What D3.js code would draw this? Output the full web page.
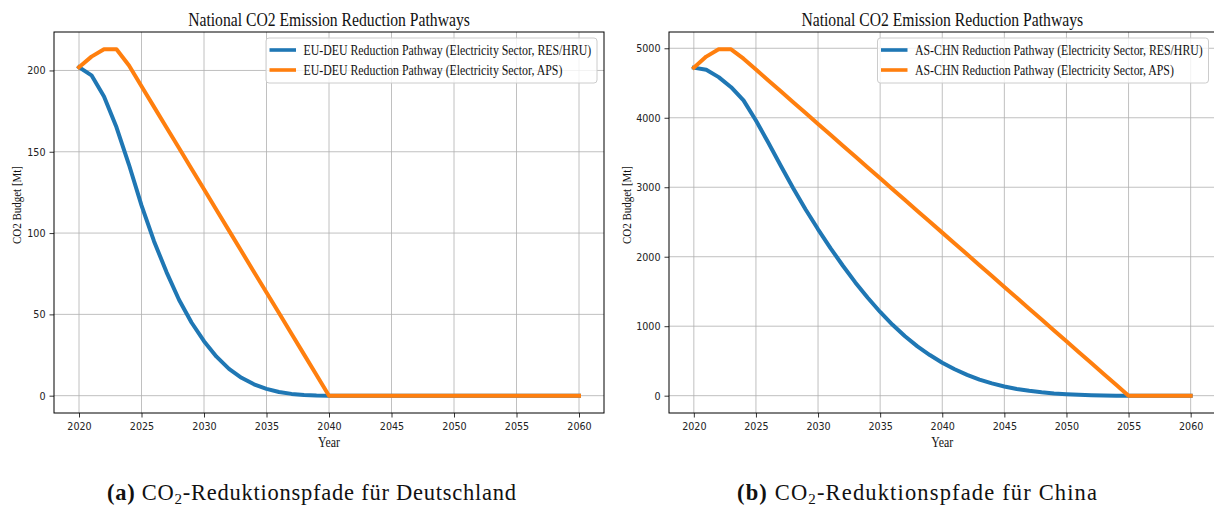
<!DOCTYPE html>
<html>
<head>
<meta charset="utf-8">
<script src="https://cdn.jsdelivr.net/npm/d3@7"></script>
<style>
  html, body { margin: 0; padding: 0; background: #fff; }
  svg { display: block; }
</style>
</head>
<body>
<svg id="chart" width="1214" height="510"></svg>
<script>
// ---------------- DATA ----------------
const years = [2020,2021,2022,2023,2024,2025,2026,2027,2028,2029,
               2030,2031,2032,2033,2034,2035,2036,2037,2038,2039,
               2040,2041,2042,2043,2044,2045,2046,2047,2048,2049,
               2050,2051,2052,2053,2054,2055,2056,2057,2058,2059,2060];

const deuRes = [202,197,184,165,142,117,95,76,59,45,
                33.5,24,16.5,11,7,4.2,2.3,1.1,0.45,0.12,
                0,0,0,0,0,0,0,0,0,0,
                0,0,0,0,0,0,0,0,0,0,0];

const deuAps = [202,208.5,213,213,203,190.3,177.6,164.9,152.3,139.6,
                126.9,114.2,101.5,88.8,76.1,63.4,50.8,38.1,25.4,12.7,
                0,0,0,0,0,0,0,0,0,0,
                0,0,0,0,0,0,0,0,0,0,0];

const chnRes = [4720,4690,4585,4440,4250,3960,3640,3310,2985,2680,
                2395,2125,1870,1630,1410,1205,1020,855,710,585,
                475,380,300,232,177,132,97,70,49,33,
                21,12,6,2.5,0.8,0,0,0,0,0,0];

const chnAps = [4720,4880,4985,4985,4850,4693.5,4537,4380.6,4224,4067.7,
                3911,3754.8,3598,3442,3285.5,3129,2972.6,2816,2659.7,2503,
                2346.8,2190,2034,1877.4,1721,1564.5,1408,1251.6,1095,938.7,
                782,625.8,469,312.9,156.5,0,0,0,0,0,0];

const xTickValues = [2020,2025,2030,2035,2040,2045,2050,2055,2060];
const deuYTicks = [0,50,100,150,200];
const chnYTicks = [0,1000,2000,3000,4000,5000];

const titleText = "National CO2 Emission Reduction Pathways";
const xLabelText = "Year";
const yLabelText = "CO2 Budget [Mt]";
const deuLegend = ["EU-DEU Reduction Pathway (Electricity Sector, RES/HRU)",
                   "EU-DEU Reduction Pathway (Electricity Sector, APS)"];
const chnLegend = ["AS-CHN Reduction Pathway (Electricity Sector, RES/HRU)",
                   "AS-CHN Reduction Pathway (Electricity Sector, APS)"];
const captions = [
  {label: "(a)", pre: " CO", sub: "2", post: "-Reduktionspfade für Deutschland"},
  {label: "(b)", pre: " CO", sub: "2", post: "-Reduktionspfade für China"}
];

const colors = ["#1f77b4", "#ff7f0e"];

// ---------------- DRAW ----------------
const svg = d3.select("#chart");
svg.append("rect").attr("width",1214).attr("height",510).attr("fill","#fff");

const SERIF = "'Liberation Serif','Times New Roman',serif";
const SANS = "'DejaVu Sans',sans-serif";
const SQ = 0.87; // horizontal squeeze seen in the reference

// squeeze text horizontally around its anchor using a transform
function squeeze(sel, f) {
  sel.each(function() {
    const x = +(this.getAttribute("x") || 0);
    this.setAttribute("x", x / f);
    const tr = this.getAttribute("transform") || "";
    this.setAttribute("transform", (tr + ` scale(${f},1)`).trim());
  });
}

function panel(cfg) {
  const all = cfg.series.flat();
  const ymax = d3.max(all), ymin = d3.min(all);
  const ypad = (ymax - ymin) * 0.05;
  const xmin = d3.min(years), xmax = d3.max(years);
  const xpad = (xmax - xmin) * 0.05;

  const x = d3.scaleLinear().domain([xmin - xpad, xmax + xpad]).range([cfg.x0, cfg.x1]);
  const y = d3.scaleLinear().domain([ymin - ypad, ymax + ypad]).range([cfg.y1, cfg.y0]);

  const g = svg.append("g");

  // grid
  g.append("g").selectAll("line").data(xTickValues).join("line")
    .attr("x1", d => x(d)).attr("x2", d => x(d))
    .attr("y1", cfg.y0).attr("y2", cfg.y1)
    .attr("stroke", "#b0b0b0").attr("stroke-width", 0.8);
  g.append("g").selectAll("line").data(cfg.yTicks).join("line")
    .attr("x1", cfg.x0).attr("x2", cfg.x1)
    .attr("y1", d => y(d)).attr("y2", d => y(d))
    .attr("stroke", "#b0b0b0").attr("stroke-width", 0.8);

  // lines
  const line = d3.line().x((d, i) => x(years[i])).y(d => y(d));
  cfg.series.forEach((s, i) => {
    g.append("path").datum(s)
      .attr("d", line)
      .attr("fill", "none")
      .attr("stroke", colors[i])
      .attr("stroke-width", 4)
      .attr("stroke-linejoin", "round")
      .attr("stroke-linecap", "square");
  });

  // axes
  const xAxis = g.append("g").attr("transform", `translate(0,${cfg.y1})`)
    .call(d3.axisBottom(x).tickValues(xTickValues).tickFormat(d3.format("d"))
      .tickSize(4.5).tickPadding(4.5));
  const yAxis = g.append("g").attr("transform", `translate(${cfg.x0},0)`)
    .call(d3.axisLeft(y).tickValues(cfg.yTicks).tickFormat(d3.format("d"))
      .tickSize(4.5).tickPadding(4));
  [xAxis, yAxis].forEach(a => {
    a.select(".domain").remove();
    a.selectAll(".tick line").attr("stroke", "#000").attr("stroke-width", 0.8);
    a.selectAll(".tick text").attr("font-family", SANS).attr("font-size", 11)
      .attr("fill", "#222");
  });
  squeeze(xAxis.selectAll(".tick text"), SQ);
  squeeze(yAxis.selectAll(".tick text"), SQ);

  // spines
  g.append("rect")
    .attr("x", cfg.x0).attr("y", cfg.y0)
    .attr("width", cfg.x1 - cfg.x0).attr("height", cfg.y1 - cfg.y0)
    .attr("fill", "none").attr("stroke", "#000").attr("stroke-width", 1);

  // title
  const t = g.append("text")
    .attr("x", (cfg.x0 + cfg.x1) / 2).attr("y", 26)
    .attr("text-anchor", "middle")
    .attr("font-family", SERIF).attr("font-size", 18).attr("fill", "#111")
    .text(titleText);
  squeeze(t, SQ);

  // x label
  const xl = g.append("text")
    .attr("x", (cfg.x0 + cfg.x1) / 2).attr("y", 447)
    .attr("text-anchor", "middle")
    .attr("font-family", SERIF).attr("font-size", 13.6).attr("fill", "#111")
    .text(xLabelText);
  squeeze(xl, SQ);

  // y label
  g.append("text")
    .attr("transform", `translate(${cfg.ylx},205) rotate(-90)`)
    .attr("text-anchor", "middle")
    .attr("font-family", SERIF).attr("font-size", 13).attr("fill", "#111")
    .attr("textLength", 78).attr("lengthAdjust", "spacingAndGlyphs")
    .text(yLabelText);

  // legend
  const lg = g.append("g").attr("transform", `translate(${cfg.legX},38)`);
  lg.append("rect").attr("width", 331).attr("height", 45).attr("rx", 3)
    .attr("fill", "#fff").attr("fill-opacity", 0.8)
    .attr("stroke", "#cccccc").attr("stroke-width", 1);
  cfg.legend.forEach((txt, i) => {
    const yy = 12 + i * 20;
    lg.append("line").attr("x1", 3.5).attr("x2", 30).attr("y1", yy).attr("y2", yy)
      .attr("stroke", colors[i]).attr("stroke-width", 3.6);
    const lt = lg.append("text").attr("x", 37.5).attr("y", yy + 5)
      .attr("font-family", SERIF).attr("font-size", 13.6).attr("fill", "#111")
      .text(txt);
    squeeze(lt, SQ);
  });

  // caption
  const c = cfg.caption;
  const ct = svg.append("text")
    .attr("x", cfg.capX).attr("y", 500)
    .attr("text-anchor", "middle")
    .attr("font-family", SERIF).attr("font-size", 22.5).attr("fill", "#111");
  ct.append("tspan").attr("font-weight", "bold").text(c.label);
  ct.append("tspan").text(c.pre);
  ct.append("tspan").attr("font-size", 15).attr("dy", 4).text(c.sub);
  ct.append("tspan").attr("dy", -4).text(c.post);
  ct.attr("textLength", cfg.capW).attr("lengthAdjust", "spacing");
}

panel({
  x0: 54, x1: 604, y0: 32, y1: 413,
  series: [deuRes, deuAps], yTicks: deuYTicks,
  legend: deuLegend, legX: 266, ylx: 21,
  caption: captions[0], capX: 311.5, capW: 409
});
panel({
  x0: 669, x1: 1215.5, y0: 32, y1: 413,
  series: [chnRes, chnAps], yTicks: chnYTicks,
  legend: chnLegend, legX: 877.5, ylx: 631,
  caption: captions[1], capX: 917, capW: 360
});
</script>
</body>
</html>
